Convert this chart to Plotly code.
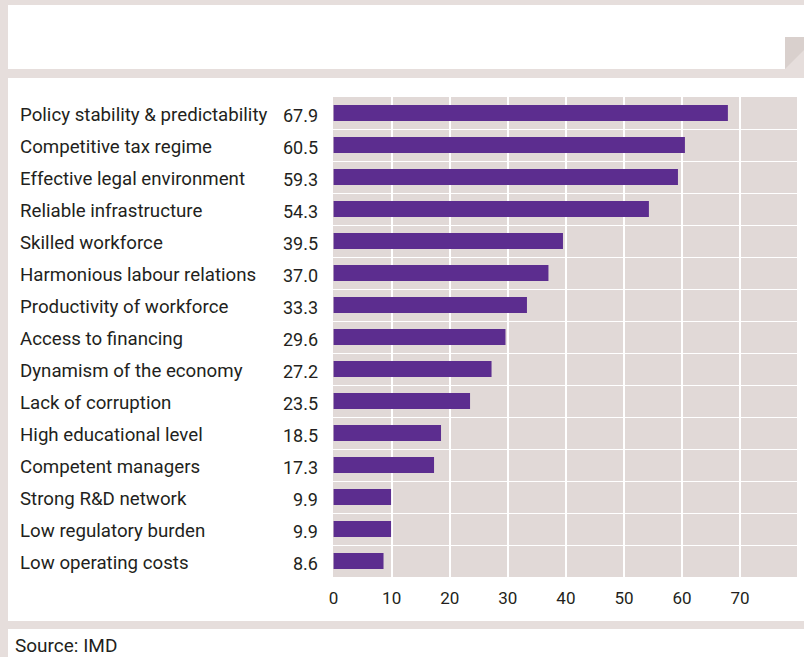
import plotly.graph_objects as go

categories = [
    "Policy stability & predictability",
    "Competitive tax regime",
    "Effective legal environment",
    "Reliable infrastructure",
    "Skilled workforce",
    "Harmonious labour relations",
    "Productivity of workforce",
    "Access to financing",
    "Dynamism of the economy",
    "Lack of corruption",
    "High educational level",
    "Competent managers",
    "Strong R&D network",
    "Low regulatory burden",
    "Low operating costs",
]
values = [67.9, 60.5, 59.3, 54.3, 39.5, 37.0, 33.3, 29.6, 27.2, 23.5, 18.5, 17.3, 9.9, 9.9, 8.6]
x_ticks = [0, 10, 20, 30, 40, 50, 60, 70]
source_text = "Source: IMD"

W, H = 804, 657
L, R, T, B = 333, 7, 97, 80
PW, PH = W - L - R, H - T - B

def px(xp):
    return (xp - L) / PW

def py(yp):
    return (H - B - yp) / PH

OUTER = "#e6dedc"
PLOTBG = "#e1d9d7"
BAR = "#5c2d8f"
TEXT = "#231f20"
FONT = "Roboto"

fig = go.Figure(go.Bar(
    x=values, y=categories, orientation="h",
    marker=dict(color=BAR, line=dict(width=0)),
    width=0.5,
))

def rect(x0, x1, y0, y1, color):
    return dict(type="rect", xref="paper", yref="paper", x0=px(x0), x1=px(x1),
                y0=py(y0), y1=py(y1), fillcolor=color, line=dict(width=0), layer="below")

shapes = [
    rect(8, W, 5, 69, "white"),
    rect(785, W, 37, 69, "#d9d0cd"),
    dict(type="path", xref="paper", yref="paper",
         path=f"M {px(785)},{py(69)} L {px(W)},{py(69)} L {px(W)},{py(50)} Z",
         fillcolor=OUTER, line=dict(width=0), layer="below"),
    # white panel around the plot area (not covering it)
    rect(8, L, 78, 621, "white"),
    rect(L, W, 78, T, "white"),
    rect(L, W, H - B, 621, "white"),
    rect(W - R, W, T, H - B, "white"),
    rect(8, W, 629, H, "white"),
]

annotations = []
for c, v in zip(categories, values):
    annotations.append(dict(
        x=px(18), xref="paper", y=c, yref="y", text=c, showarrow=False, yshift=-2,
        xanchor="left", yanchor="middle", font=dict(family=FONT, size=18.7, color=TEXT),
    ))
    annotations.append(dict(
        x=px(320), xref="paper", y=c, yref="y", text=f"{v:.1f}", showarrow=False, yshift=-2,
        xanchor="right", yanchor="middle", font=dict(family=FONT, size=18, color=TEXT),
    ))
annotations.append(dict(
    x=px(13), xref="paper", y=py(645), yref="paper", text=source_text, showarrow=False,
    xanchor="left", yanchor="middle", font=dict(family=FONT, size=19, color=TEXT),
))

fig.update_layout(
    width=W, height=H,
    margin=dict(l=L, r=R, t=T, b=B, pad=0),
    paper_bgcolor=OUTER,
    plot_bgcolor=PLOTBG,
    showlegend=False,
    shapes=shapes,
    annotations=annotations,
    font=dict(family=FONT, size=17, color=TEXT),
    xaxis=dict(
        range=[-0.1, 79.8], tickvals=x_ticks, showgrid=True, gridcolor="white", gridwidth=2,
        zeroline=False, showline=False, ticks="", tickfont=dict(size=17, color=TEXT),
        ticklabelstandoff=9,
    ),
    yaxis=dict(
        type="category", categoryorder="array", categoryarray=categories,
        autorange="reversed", showticklabels=False,
        tickson="boundaries", showgrid=True, gridcolor="white", gridwidth=1,
        zeroline=False, showline=False, ticks="",
    ),
)

fig.write_html("out.html")
